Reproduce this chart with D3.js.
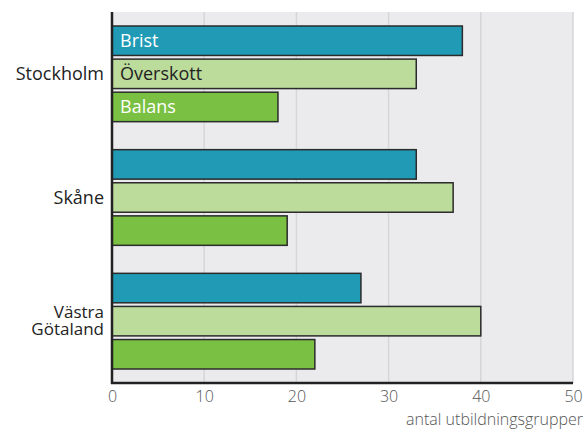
<!DOCTYPE html>
<html><head><meta charset="utf-8">
<script src="https://cdn.jsdelivr.net/npm/d3@7"></script>
<style>body{margin:0;background:#fff;} text{font-family:"Open Sans","Noto Sans",sans-serif;}</style>
</head><body>
<svg id="c" width="587" height="429"></svg>
<script>
const regions = ["Stockholm", "Skåne", "Västra Götaland"];
const regionLines = [["Stockholm"], ["Skåne"], ["Västra", "Götaland"]];
const seriesNames = ["Brist", "Överskott", "Balans"];
const brist = [38, 33, 27];
const overskott = [33, 37, 40];
const balans = [18, 19, 22];
const xTicks = [0, 10, 20, 30, 40, 50];
const xLabel = "antal utbildningsgrupper";
const colors = ["#219bb5", "#bcdc9c", "#7ac143"];
const labelColors = ["#ffffff", "#222222", "#ffffff"];

const series = [brist, overskott, balans];
const svg = d3.select("#c");
const m = {l:112, r:14, t:12, b:46};
const W = 587, H = 429;
const x = d3.scaleLinear().domain([0, 50]).range([m.l, W - m.r]);
const y = d3.scaleBand().domain(regions).range([m.t, H - m.b]).paddingInner(0).paddingOuter(0);
const inner = d3.scaleBand().domain(seriesNames).range([14, y.bandwidth() - 14]).paddingInner(0.11);

svg.append("rect").attr("x", m.l).attr("y", m.t).attr("width", x(50) - m.l).attr("height", H - m.b - m.t).attr("fill", "#ebebed");

svg.append("g").selectAll("line").data(xTicks.slice(1)).join("line")
  .attr("x1", d => x(d)).attr("x2", d => x(d)).attr("y1", m.t).attr("y2", H - m.b)
  .attr("stroke", "#d6d6d8").attr("stroke-width", 1.5);

regions.forEach((r, i) => {
  const g = svg.append("g").attr("transform", `translate(0,${y(r)})`);
  seriesNames.forEach((s, j) => {
    g.append("rect").attr("x", x(0)).attr("y", inner(s)).attr("width", x(series[j][i]) - x(0)).attr("height", inner.bandwidth())
      .attr("fill", colors[j]).attr("stroke", "#2b2b2b").attr("stroke-width", 1.5);
    if (i === 0) {
      g.append("text").attr("x", x(0) + 8).attr("y", inner(s) + inner.bandwidth() / 2).attr("dy", "0.36em")
        .attr("font-size", 18).attr("fill", labelColors[j]).text(s);
    }
  });
  const lines = regionLines[i];
  const cy = y(r) + y.bandwidth() / 2;
  lines.forEach((ln, k) => {
    svg.append("text").attr("text-anchor", "end").attr("font-size", lines.length > 1 ? 17 : 18).attr("fill", "#222")
      .attr("x", 104).attr("y", cy + (k - (lines.length - 1) / 2) * 17 + (lines.length > 1 ? 5 : 6)).text(ln);
  });
});

// axes
const xAxis = d3.axisBottom(x).tickValues(xTicks).tickSize(0).tickPadding(8);
const ax = svg.append("g").attr("transform", `translate(0,${H - m.b})`).call(xAxis);
ax.select(".domain").remove();
ax.selectAll("text").attr("font-size", 16).attr("fill", "#555").attr("font-family", "'Open Sans','Noto Sans',sans-serif").attr("font-weight", 300);

svg.append("line").attr("x1", x(0)).attr("x2", x(0)).attr("y1", m.t).attr("y2", H - m.b + 1).attr("stroke", "#222").attr("stroke-width", 2.5);
svg.append("line").attr("x1", x(0) - 1).attr("x2", x(50)).attr("y1", H - m.b).attr("y2", H - m.b).attr("stroke", "#222").attr("stroke-width", 2.5);

svg.append("text").attr("x", 583).attr("y", 425).attr("text-anchor", "end").attr("font-size", 16).attr("fill", "#555").attr("font-weight", 300).text(xLabel);
</script>
</body></html>
